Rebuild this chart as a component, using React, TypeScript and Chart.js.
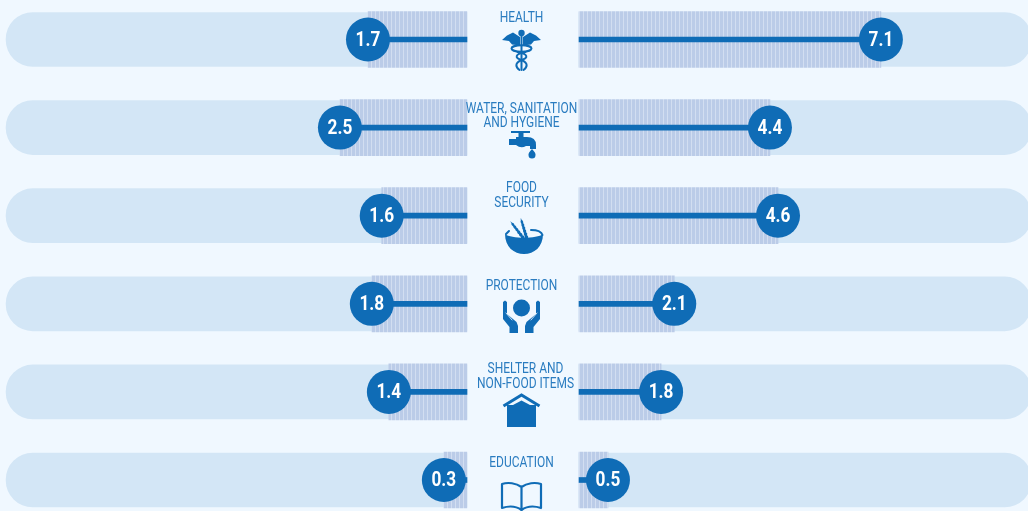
import React, { useEffect, useRef } from "react";
import { Chart, registerables } from "chart.js";

Chart.register(...registerables);

const sectors = ["Health", "Water", "Food", "Protection", "Shelter", "Education"];
const sectorTitles = [
  ["HEALTH"],
  ["WATER, SANITATION", "AND HYGIENE"],
  ["FOOD", "SECURITY"],
  ["PROTECTION"],
  ["SHELTER AND", "NON-FOOD ITEMS"],
  ["EDUCATION"],
];
const titleX = [521.5, 521.5, 521.5, 521.5, 525.5, 521.5];
const titleY = [18.5, 109.5, 188.5, 286.5, 369.5, 463.5];
const titleGap = [0, 14, 15, 0, 15, 0];
// printed numbers
const leftLabels = ["1.7", "2.5", "1.6", "1.8", "1.4", "0.3"];
const rightLabels = ["7.1", "4.4", "4.6", "2.1", "1.8", "0.5"];
// bar lengths, in axis units
const leftValues = [1.8, 2.31, 1.55, 1.73, 1.42, 0.42];
const rightValues = [7.1, 4.49, 4.68, 2.24, 1.93, 0.68];
const leftTrack = [8.38, 8.38, 8.38, 8.38, 8.38, 8.38];
const rightTrack = [10.64, 10.64, 10.64, 10.64, 10.64, 10.64];

const BG = "#f0f8ff";
const TRACK = "#d3e6f6";
const BLUE = "#0f6cb6";
const TEXT = "#2a7cc0";

function condensedText(ctx: CanvasRenderingContext2D, s: string, x: number, y: number, font: string, color: string, sx: number) {
  ctx.save();
  ctx.translate(x, y);
  ctx.scale(sx, 1);
  ctx.font = font;
  ctx.fillStyle = color;
  ctx.textAlign = "center";
  ctx.textBaseline = "middle";
  ctx.fillText(s, 0, 0);
  ctx.restore();
}

function poly(ctx: CanvasRenderingContext2D, pts: number[][], mirror?: number) {
  ctx.beginPath();
  pts.forEach((p, i) => {
    const x = mirror !== undefined ? 2 * mirror - p[0] : p[0];
    if (i === 0) ctx.moveTo(x, p[1]);
    else ctx.lineTo(x, p[1]);
  });
  ctx.closePath();
  ctx.fill();
}

function drawIcons(ctx: CanvasRenderingContext2D) {
  ctx.save();
  ctx.fillStyle = BLUE;
  ctx.strokeStyle = BLUE;
  ctx.lineCap = "round";
  ctx.lineJoin = "round";

  // caduceus
  const cx = 521.5;
  ctx.beginPath(); ctx.arc(cx, 33, 3.2, 0, Math.PI * 2); ctx.fill();
  for (const m of [undefined, cx]) {
    poly(ctx, [[520, 37], [513, 32.5], [507, 35.5], [502, 40], [509, 41], [512, 44.5], [520, 45.5]], m);
  }
  ctx.lineWidth = 2;
  ctx.beginPath(); ctx.moveTo(cx, 36); ctx.lineTo(cx, 70); ctx.stroke();
  ctx.lineWidth = 2;
  ctx.beginPath();
  ctx.ellipse(cx, 48.5, 10, 3.2, 0, 0, Math.PI * 2);
  ctx.stroke();
  ctx.beginPath();
  ctx.moveTo(cx - 4, 52); ctx.bezierCurveTo(cx + 7, 54, cx + 7, 58, cx, 60);
  ctx.bezierCurveTo(cx - 7, 63, cx - 6, 67, cx - 2, 70);
  ctx.moveTo(cx + 4, 52); ctx.bezierCurveTo(cx - 7, 54, cx - 7, 58, cx, 60);
  ctx.bezierCurveTo(cx + 7, 63, cx + 6, 67, cx + 2, 70);
  ctx.stroke();

  // tap
  ctx.fillRect(511, 131, 19, 2);
  ctx.fillRect(518.5, 131, 5, 7);
  ctx.beginPath();
  ctx.moveTo(509, 139); ctx.lineTo(516, 139); ctx.lineTo(516, 137); ctx.lineTo(527, 137);
  ctx.quadraticCurveTo(536, 137, 536, 145); ctx.lineTo(536, 149); ctx.lineTo(530, 149);
  ctx.lineTo(530, 146); ctx.lineTo(526, 146); ctx.quadraticCurveTo(521, 149, 516, 145);
  ctx.lineTo(509, 145); ctx.closePath(); ctx.fill();
  ctx.beginPath();
  ctx.moveTo(532, 149); ctx.quadraticCurveTo(536, 153, 535.5, 155);
  ctx.arc(532, 155, 3.5, 0, Math.PI); ctx.quadraticCurveTo(528, 153, 532, 149); ctx.fill();

  // bowl with wheat
  ctx.beginPath();
  ctx.moveTo(505, 234);
  ctx.bezierCurveTo(505, 247, 514, 254, 524, 254);
  ctx.bezierCurveTo(534, 254, 543, 247, 543, 234);
  ctx.bezierCurveTo(537, 239, 511, 239, 505, 234);
  ctx.closePath(); ctx.fill();
  ctx.lineWidth = 2;
  ctx.beginPath();
  ctx.moveTo(531, 230); ctx.quadraticCurveTo(541, 230, 542.5, 235); ctx.stroke();
  ctx.beginPath(); ctx.moveTo(506, 234); ctx.lineTo(509, 231); ctx.stroke();
  for (const [x0, y0, x1, y1] of [[524, 239, 511, 222], [527, 239, 521, 219]]) {
    ctx.lineWidth = 0.8;
    ctx.beginPath(); ctx.moveTo(x0, y0); ctx.lineTo(x1, y1); ctx.stroke();
    const a = Math.atan2(y1 - y0, x1 - x0);
    for (let k = 0; k < 6; k++) {
      const f = 0.1 + k * 0.15;
      const px = x0 + (x1 - x0) * f;
      const py = y0 + (y1 - y0) * f;
      ctx.beginPath();
      ctx.ellipse(px, py, 2, 1.8 - k * 0.1, a, 0, Math.PI * 2);
      ctx.fill();
    }
  }

  // hands
  const hx = 521.5;
  ctx.beginPath(); ctx.arc(hx, 308, 8.5, 0, Math.PI * 2); ctx.fill();
  for (const m of [undefined, hx]) {
    poly(ctx, [[503, 302], [505, 300.5], [507, 302], [507, 314], [516.5, 322], [518, 326], [518, 333], [509.5, 333], [509.5, 327], [503, 319]], m);
  }
  ctx.strokeStyle = BG;
  ctx.lineWidth = 0.8;
  ctx.beginPath();
  ctx.moveTo(506, 313); ctx.lineTo(512, 320);
  ctx.moveTo(537, 313); ctx.lineTo(531, 320);
  ctx.stroke();
  ctx.strokeStyle = BLUE;

  // house
  ctx.lineCap = "butt";
  ctx.lineJoin = "miter";
  ctx.lineWidth = 3;
  ctx.beginPath(); ctx.moveTo(503.5, 406); ctx.lineTo(521.5, 395); ctx.lineTo(539.5, 406); ctx.stroke();
  ctx.fillRect(507, 405, 29, 22);
  poly(ctx, [[513, 405], [530, 405], [521.5, 400.5]]);

  // book
  ctx.lineWidth = 2.2;
  ctx.lineJoin = "round";
  ctx.beginPath();
  ctx.moveTo(521.5, 487);
  ctx.bezierCurveTo(516, 483, 508, 482, 502, 484);
  ctx.lineTo(502, 508);
  ctx.bezierCurveTo(508, 506, 516, 506, 521.5, 510);
  ctx.bezierCurveTo(527, 506, 535, 506, 541, 508);
  ctx.lineTo(541, 484);
  ctx.bezierCurveTo(535, 482, 527, 483, 521.5, 487);
  ctx.lineTo(521.5, 510);
  ctx.stroke();
  ctx.restore();
}

export default function App() {
  const ref = useRef<HTMLCanvasElement>(null);
  useEffect(() => {
    const tile = document.createElement("canvas");
    tile.width = 4;
    tile.height = 4;
    const t = tile.getContext("2d")!;
    t.fillStyle = "#bbcce8";
    t.fillRect(0, 0, 4, 4);
    t.fillStyle = "#d2def1";
    t.fillRect(3, 0, 1, 4);
    const ctx = ref.current!.getContext("2d")!;
    const hatch = ctx.createPattern(tile, "repeat")!;

    const labelsPlugin = {
      id: "labels",
      afterDraw(chart: any) {
        const c = chart.ctx as CanvasRenderingContext2D;
        sectorTitles.forEach((lines, i) => {
          lines.forEach((s, j) => {
            condensedText(c, s, titleX[i], titleY[i] + j * titleGap[i], "14px Roboto", TEXT, 0.855);
          });
        });
        const put = (idx: number, labels: string[]) => {
          chart.getDatasetMeta(idx).data.forEach((el: any, i: number) => {
            condensedText(c, labels[i], el.x, el.y + 1, "bold 21px Roboto", "#ffffff", 0.82);
          });
        };
        put(6, leftLabels);
        put(7, rightLabels);
        drawIcons(c);
      },
    };

    const bar = (data: number[], xAxisID: string, color: any, thickness: number, radius: any) => ({
      type: "bar" as const,
      data,
      xAxisID,
      yAxisID: "y",
      backgroundColor: color,
      barThickness: thickness,
      borderRadius: radius,
      borderSkipped: false,
      grouped: false,
      clip: false as any,
    });
    const dot = (data: number[], xAxisID: string) => ({
      type: "line" as const,
      data,
      xAxisID,
      yAxisID: "y",
      indexAxis: "y" as const,
      showLine: false,
      pointRadius: 22,
      pointBackgroundColor: BLUE,
      pointBorderWidth: 0,
      clip: false as any,
    });

    const leftRound = { topLeft: 27, bottomLeft: 27, topRight: 0, bottomRight: 0 };
    const rightRound = { topLeft: 0, bottomLeft: 0, topRight: 27, bottomRight: 27 };

    const chart = new Chart(ref.current!, {
      data: {
        labels: sectors,
        datasets: [
          { ...bar(leftTrack, "xL", TRACK, 54, leftRound), order: 8 },
          { ...bar(rightTrack, "xR", TRACK, 54, rightRound), order: 7 },
          { ...bar(leftValues, "xL", hatch, 56, 0), order: 6 },
          { ...bar(rightValues, "xR", hatch, 56, 0), order: 5 },
          { ...bar(leftValues, "xL", BLUE, 5, 0), order: 4 },
          { ...bar(rightValues, "xR", BLUE, 5, 0), order: 3 },
          { ...dot(leftValues, "xL"), order: 2 },
          { ...dot(rightValues, "xR"), order: 1 },
        ] as any,
      },
      options: {
        indexAxis: "y",
        animation: false,
        responsive: false,
        layout: { autoPadding: false, padding: { top: 39.5, bottom: 31, left: 0, right: 0 } },
        plugins: { legend: { display: false }, tooltip: { enabled: false } },
        scales: {
          y: { type: "category", offset: false, display: false, grid: { display: false } },
          xL: { type: "linear", reverse: true, min: -10.2, max: 8.49, display: false, grid: { display: false } },
          xR: { type: "linear", min: -13.62, max: 10.56, display: false, grid: { display: false } },
        },
      } as any,
      plugins: [labelsPlugin],
    });
    return () => chart.destroy();
  }, []);
  return (
    <div style={{ position: "fixed", left: 0, top: 0, width: 1028, height: 511, background: BG, overflow: "hidden" }}>
      <canvas ref={ref} width={1028} height={511} style={{ display: "block" }} />
    </div>
  );
}
